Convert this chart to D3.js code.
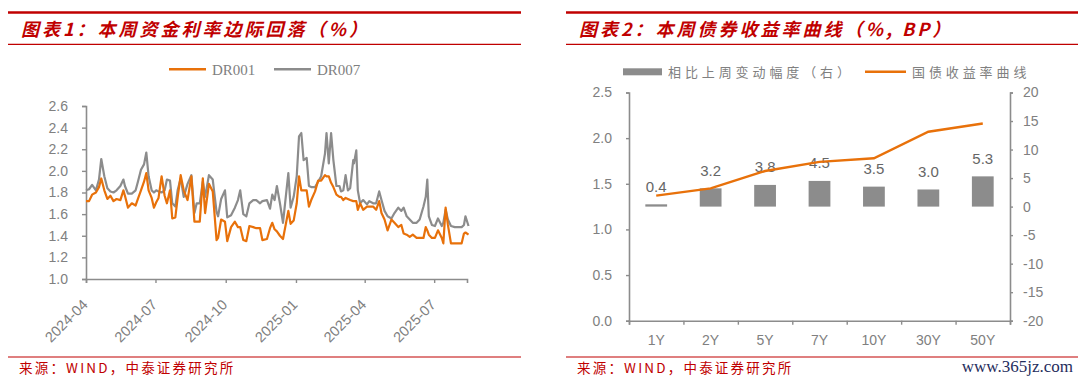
<!DOCTYPE html>
<html>
<head>
<meta charset="utf-8">
<script src="https://cdn.jsdelivr.net/npm/d3@7"></script>
<style>
  body { margin: 0; background: #fff; }
  svg { display: block; }
</style>
</head>
<body>
<svg id="chart" width="1080" height="381"></svg>
<script>
// ---- chart 1 data: DR001 / DR007 (%) ----
var dates = [
  "2024-04-01","2024-04-05","2024-04-09","2024-04-14","2024-04-18","2024-04-21","2024-04-25","2024-04-29",
  "2024-05-03","2024-05-07","2024-05-11","2024-05-16","2024-05-20","2024-05-22","2024-05-26","2024-05-31",
  "2024-06-05","2024-06-08","2024-06-12","2024-06-16","2024-06-19","2024-06-22","2024-06-26","2024-06-29",
  "2024-07-02","2024-07-05","2024-07-09","2024-07-13","2024-07-16","2024-07-20","2024-07-23","2024-07-27",
  "2024-07-30","2024-08-03","2024-08-07","2024-08-12","2024-08-17","2024-08-21","2024-08-24","2024-08-28",
  "2024-09-01","2024-09-04","2024-09-09","2024-09-14","2024-09-19","2024-09-21","2024-09-25","2024-09-30",
  "2024-10-03","2024-10-08","2024-10-13","2024-10-17","2024-10-20","2024-10-24","2024-10-28","2024-11-01",
  "2024-11-06","2024-11-10","2024-11-15","2024-11-18","2024-11-24","2024-11-28","2024-12-01","2024-12-04",
  "2024-12-07","2024-12-11","2024-12-15","2024-12-22","2024-12-25","2024-12-29","2025-01-02","2025-01-05",
  "2025-01-08","2025-01-11","2025-01-15","2025-01-18","2025-01-21","2025-01-26","2025-01-30","2025-02-03",
  "2025-02-08","2025-02-10","2025-02-13","2025-02-16","2025-02-19","2025-02-23","2025-02-27","2025-03-01",
  "2025-03-04","2025-03-07","2025-03-10","2025-03-13","2025-03-17","2025-03-18","2025-03-21","2025-03-23",
  "2025-03-26","2025-03-30","2025-04-04","2025-04-07","2025-04-12","2025-04-16","2025-04-20","2025-04-23",
  "2025-04-27","2025-05-01","2025-05-06","2025-05-10","2025-05-15","2025-05-19","2025-05-22","2025-05-26",
  "2025-05-30","2025-06-03","2025-06-08","2025-06-12","2025-06-17","2025-06-20","2025-06-22","2025-06-24",
  "2025-06-28","2025-07-02","2025-07-06","2025-07-11","2025-07-13","2025-07-16","2025-07-19","2025-07-23",
  "2025-07-28","2025-08-02","2025-08-06","2025-08-09","2025-08-11","2025-08-15"
];
var dr001 = [
  1.72,1.72,1.78,1.80,1.85,1.93,1.82,1.74, 1.77,1.72,1.74,1.73,1.82,1.77,1.66,1.70,
  1.68,1.74,1.82,1.90,1.98,1.82,1.75,1.66, 1.71,1.75,1.95,1.77,1.70,1.82,1.56,1.57,
  1.75,1.96,1.82,1.73,1.95,1.53,1.53,1.53, 1.93,1.61,1.88,1.81,1.36,1.38,1.55,1.53,
  1.35,1.48,1.53,1.48,1.48,1.36,1.35,1.49, 1.48,1.47,1.47,1.36,1.37,1.47,1.52,1.46,
  1.44,1.40,1.37,1.63,1.51,1.54,1.70,1.95, 1.82,1.82,1.82,1.67,1.73,1.81,1.91,1.91,
  1.96,1.95,1.95,1.89,1.85,1.78,1.76,1.76, 1.73,1.75,1.74,1.73,1.72,1.72,1.72,1.64,
  1.70,1.64,1.67,1.67,1.67,1.64,1.72,1.61, 1.55,1.45,1.55,1.52,1.48,1.50,1.42,1.41,
  1.39,1.41,1.38,1.38,1.38,1.48,1.45,1.41, 1.38,1.38,1.45,1.38,1.33,1.66,1.50,1.33,
  1.33,1.33,1.33,1.42,1.43,1.41
];
var dr007 = [
  1.82,1.83,1.87,1.82,1.92,2.11,1.95,1.84, 1.81,1.80,1.82,1.86,1.92,1.86,1.79,1.79,
  1.82,1.90,2.01,2.06,2.17,1.95,1.82,1.80, 1.82,1.81,1.80,1.82,1.92,1.91,1.70,1.67,
  1.82,1.93,1.76,1.88,1.96,1.61,1.70,1.70, 1.90,1.76,1.96,1.92,1.62,1.58,1.74,1.82,
  1.57,1.59,1.66,1.73,1.82,1.60,1.58,1.70, 1.73,1.73,1.70,1.72,1.73,1.65,1.78,1.73,
  1.86,1.70,1.52,1.98,1.66,1.76,1.95,2.32, 2.35,2.10,2.12,1.86,1.85,1.85,1.90,1.95,
  2.16,2.35,2.07,2.35,2.10,1.86,1.86,1.81, 1.82,1.96,1.82,1.84,2.10,2.07,2.19,1.82,
  1.70,1.73,1.69,1.72,1.70,1.70,1.81,1.73, 1.63,1.58,1.56,1.61,1.66,1.63,1.66,1.58,
  1.55,1.52,1.52,1.55,1.67,1.76,1.92,1.58, 1.50,1.49,1.56,1.49,1.52,1.64,1.55,1.49,
  1.48,1.48,1.48,1.50,1.58,1.49
];
var seriesNames = ["DR001", "DR007"];
var xTickDates = ["2024-04-01","2024-07-01","2024-10-01","2025-01-01","2025-04-01","2025-07-01"];
var rateTicks = [1.0, 1.2, 1.4, 1.6, 1.8, 2.0, 2.2, 2.4, 2.6];

// ---- chart 2 data: yield curve (%) and weekly change (BP) ----
var tenors = ["1Y","2Y","5Y","7Y","10Y","30Y","50Y"];
var yieldCurve = [1.37, 1.45, 1.64, 1.74, 1.78, 2.07, 2.16];
var weeklyChange = [0.4, 3.2, 3.8, 4.5, 3.5, 3.0, 5.3];
var yieldTicks = [0, 0.5, 1.0, 1.5, 2.0, 2.5];
var bpTicks = [20, 15, 10, 5, 0, -5, -10, -15, -20];
var legend2 = ["相比上周变动幅度（右）", "国债收益率曲线"];

var RED = "#c00000", ORANGE = "#e8710a", GRAY = "#8c8c8c", AXIS = "#8c8c8c", TXT = "#808080";
var svg = d3.select("#chart");
var parse = d3.timeParse("%Y-%m-%d");

function styleAxis(g, size) {
  g.select(".domain").attr("stroke", AXIS).attr("stroke-width", 1.6);
  g.selectAll(".tick line").attr("stroke", AXIS).attr("stroke-width", 1.4);
  g.selectAll(".tick text").attr("fill", TXT)
    .style("font-family", "'Liberation Sans', Arial, sans-serif")
    .style("font-size", (size || 14) + "px");
}

// ---- frames, titles and sources ----
function frame(x0, x1, title, tx) {
  svg.append("line").attr("x1", x0).attr("x2", x1).attr("y1", 12.5).attr("y2", 12.5)
    .attr("stroke", RED).attr("stroke-width", 2.6);
  svg.append("line").attr("x1", x0).attr("x2", x1).attr("y1", 44.3).attr("y2", 44.3)
    .attr("stroke", RED).attr("stroke-width", 1.2);
  svg.append("line").attr("x1", x0).attr("x2", x1).attr("y1", 357).attr("y2", 357)
    .attr("stroke", RED).attr("stroke-width", 1.2);
  svg.append("text").attr("x", tx).attr("y", 36).text(title)
    .attr("fill", RED).style("font-family", "'Noto Sans CJK SC', sans-serif")
    .style("font-size", "18px").style("font-weight", "bold").style("font-style", "italic")
    .style("letter-spacing", "3px");
  svg.append("text").attr("x", tx - 2).attr("y", 373).text("来源：WIND，中泰证券研究所")
    .attr("fill", RED).style("font-family", "'Noto Sans CJK SC', sans-serif")
    .style("font-size", "13.5px").style("letter-spacing", "2.2px");
}
frame(8, 521, "图表1：本周资金利率边际回落（%）", 21);
frame(566, 1078, "图表2：本周债券收益率曲线（%, BP）", 579);

svg.append("text").attr("x", 1073).attr("y", 372).attr("text-anchor", "end")
  .text("www.365jz.com").attr("fill", "#1f2d5c")
  .style("font-family", "'Liberation Serif', serif").style("font-size", "17px");

// ---- chart 1 ----
var x1 = d3.scaleTime().domain([parse("2024-04-01"), parse("2025-08-13")]).range([86, 467]);
var y1 = d3.scaleLinear().domain([1.0, 2.6]).range([279, 106]);

var g1y = svg.append("g").attr("transform", "translate(86,0)")
  .call(d3.axisLeft(y1).tickValues(rateTicks).tickSize(4).tickPadding(14).tickFormat(d3.format(".1f")));
styleAxis(g1y, 14);

var g1x = svg.append("g").attr("transform", "translate(0,279)")
  .call(d3.axisBottom(x1).tickValues(xTickDates.map(parse)).tickSize(4)
    .tickFormat(d3.timeFormat("%Y-%m")));
styleAxis(g1x, 14.5);
g1x.selectAll(".tick text")
  .attr("text-anchor", "end").attr("x", 0).attr("y", 0).attr("dy", "0.35em")
  .attr("transform", "translate(-1.5,23) rotate(-45)");

var rows = dates.map(function(d, i) { return { date: parse(d), v: [dr001[i], dr007[i]] }; });
var seriesColors = [ORANGE, GRAY];
// draw DR007 first so DR001 sits on top
[1, 0].forEach(function(k) {
  var line = d3.line().x(function(d) { return x1(d.date); }).y(function(d) { return y1(d.v[k]); });
  svg.append("path").datum(rows).attr("d", line)
    .attr("fill", "none").attr("stroke", seriesColors[k]).attr("stroke-width", 2.2)
    .attr("stroke-linejoin", "round");
});

// legend 1
var leg1 = [{ x: 169, tx: 212 }, { x: 274, tx: 317 }];
seriesNames.forEach(function(name, k) {
  svg.append("line").attr("x1", leg1[k].x).attr("x2", leg1[k].x + 37).attr("y1", 69.3).attr("y2", 69.3)
    .attr("stroke", seriesColors[k]).attr("stroke-width", 2.6);
  svg.append("text").attr("x", leg1[k].tx).attr("y", 74.5).text(name).attr("fill", TXT)
    .style("font-family", "'Liberation Serif', serif").style("font-size", "15px");
});

// ---- chart 2 ----
var xb = d3.scaleBand().domain(tenors).range([629, 1010]).paddingInner(0.6).paddingOuter(0.3);
var xEdge = d3.scaleLinear().domain([0, tenors.length]).range([629, 1010]);
var yL = d3.scaleLinear().domain([0, 2.5]).range([320.7, 92.5]);
var yR = d3.scaleLinear().domain([-20, 20]).range([320.7, 92.5]);

var g2l = svg.append("g").attr("transform", "translate(629,0)")
  .call(d3.axisLeft(yL).tickValues(yieldTicks).tickSize(3).tickPadding(14).tickFormat(d3.format(".1f")));
styleAxis(g2l, 14);
var g2r = svg.append("g").attr("transform", "translate(1010,0)")
  .call(d3.axisRight(yR).tickValues(bpTicks).tickSize(3).tickPadding(10).tickFormat(function(d) { return String(d); }));
styleAxis(g2r, 14);
var g2e = svg.append("g").attr("transform", "translate(0,320.7)")
  .call(d3.axisBottom(xEdge).tickValues(d3.range(tenors.length + 1)).tickSize(4).tickFormat(""));
styleAxis(g2e, 14);
var g2c = svg.append("g").attr("transform", "translate(0,320.7)")
  .call(d3.axisBottom(xb).tickSize(0).tickPadding(14));
styleAxis(g2c, 14);
g2c.select(".domain").remove();

svg.append("g").selectAll("rect").data(weeklyChange).enter().append("rect")
  .attr("x", function(d, i) { return xb(tenors[i]); })
  .attr("width", xb.bandwidth())
  .attr("y", function(d) { return yR(Math.max(0, d)); })
  .attr("height", function(d) { return Math.abs(yR(d) - yR(0)); })
  .attr("fill", GRAY);

svg.append("g").selectAll("text").data(weeklyChange).enter().append("text")
  .attr("x", function(d, i) { return xb(tenors[i]) + xb.bandwidth() / 2; })
  .attr("y", function(d) { return yR(d) - 12.5; })
  .attr("text-anchor", "middle").text(function(d) { return d.toFixed(1); })
  .attr("fill", "#666").style("font-family", "'Liberation Sans', Arial, sans-serif").style("font-size", "15px");

var curve = d3.line()
  .x(function(d, i) { return xb(tenors[i]) + xb.bandwidth() / 2; })
  .y(function(d) { return yL(d); });
svg.append("path").datum(yieldCurve).attr("d", curve)
  .attr("fill", "none").attr("stroke", ORANGE).attr("stroke-width", 2.4);

// legend 2
svg.append("rect").attr("x", 623).attr("y", 68.3).attr("width", 39).attr("height", 7).attr("fill", GRAY);
svg.append("text").attr("x", 668).attr("y", 76.5).text(legend2[0]).attr("fill", TXT)
  .style("font-family", "'Noto Sans CJK SC', sans-serif").style("font-size", "13px").style("letter-spacing", "3.9px");
svg.append("line").attr("x1", 865).attr("x2", 906).attr("y1", 71.8).attr("y2", 71.8)
  .attr("stroke", ORANGE).attr("stroke-width", 2.6);
svg.append("text").attr("x", 912).attr("y", 76.5).text(legend2[1]).attr("fill", TXT)
  .style("font-family", "'Noto Sans CJK SC', sans-serif").style("font-size", "13px").style("letter-spacing", "3.9px");
</script>
</body>
</html>
